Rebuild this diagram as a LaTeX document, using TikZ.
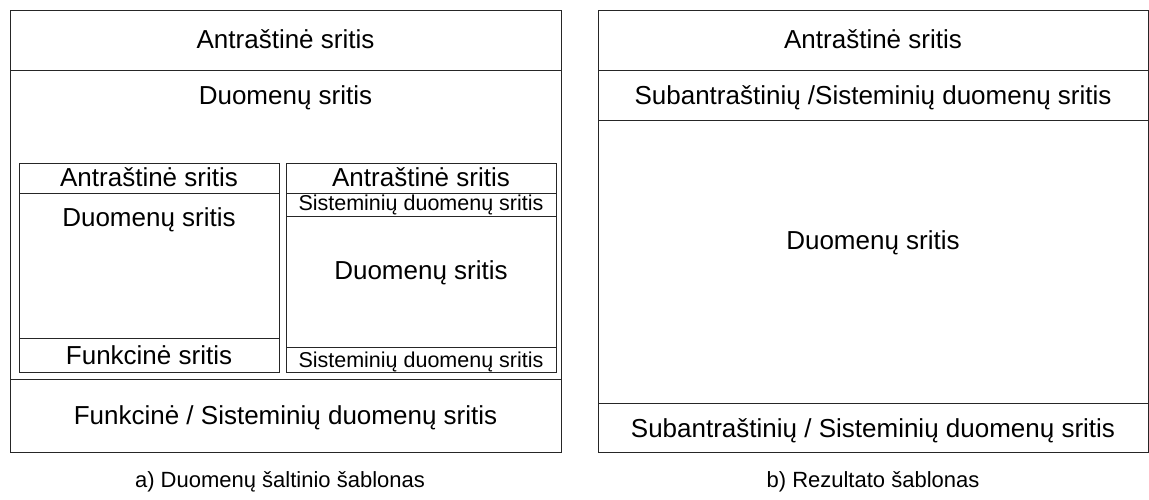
\documentclass[tikz,border=0pt]{standalone}
\usepackage{fontspec}
\setmainfont{Liberation Sans}
\begin{document}
\begin{tikzpicture}[x=1pt,y=-1pt,
  frame/.style={draw=black!85,line width=1pt},
  big/.style={font=\fontsize{26}{30}\selectfont,anchor=base,inner sep=0pt},
  small/.style={font=\fontsize{21.5}{25}\selectfont,anchor=base,inner sep=0pt},
  caption/.style={font=\fontsize{22}{26}\selectfont,anchor=base,inner sep=0pt}]
\useasboundingbox (0,0) rectangle (1149,500);
\fill[white] (0,0) rectangle (1149,500);

% ---- a) data source template ----
\draw[frame] (10,11) rectangle (561,452);
\draw[frame] (10,71) -- (561,71);
\draw[frame] (10,379) -- (561,379);
\node[big] (aHead) at (285.5,49) {Antraštinė sritis};
\node[big] (aData) at (285.5,105) {Duomenų sritis};
\node[big] (aFoot) at (285.5,424) {Funkcinė / Sisteminių duomenų sritis};

% left inner form
\draw[frame] (19,164) rectangle (279,372);
\draw[frame] (19,193) -- (279,193);
\draw[frame] (19,338) -- (279,338);
\node[big] (lHead) at (149,186) {Antraštinė sritis};
\node[big] (lData) at (149,226) {Duomenų sritis};
\node[big] (lFunc) at (149,364) {Funkcinė sritis};

% right inner form
\draw[frame] (286,164) rectangle (556,372);
\draw[frame] (286,193) -- (556,193);
\draw[frame] (286,216) -- (556,216);
\node[big] (rHead) at (421,186) {Antraštinė sritis};
\node[small] (rSysTop) at (421,211) {Sisteminių duomenų sritis};
\node[big] (rData) at (421,279) {Duomenų sritis};
\draw[frame] (286,347) -- (556,347);
\node[small] (rSysBot) at (421,367) {Sisteminių duomenų sritis};

\node[caption] (capA) at (280,487) {a) Duomenų šaltinio šablonas};

% ---- b) result template ----
\draw[frame] (598,11) rectangle (1148,452);
\draw[frame] (598,71) -- (1148,71);
\draw[frame] (598,121) -- (1148,121);
\draw[frame] (598,403) -- (1148,403);
\node[big] (bHead) at (873,49) {Antraštinė sritis};
\node[big] (bSub) at (873,105) {Subantraštinių /Sisteminių duomenų sritis};
\node[big] (bData) at (873,249) {Duomenų sritis};
\node[big] (bFoot) at (873,437) {Subantraštinių / Sisteminių duomenų sritis};

\node[caption] (capB) at (873,487) {b) Rezultato šablonas};
\end{tikzpicture}
\end{document}
